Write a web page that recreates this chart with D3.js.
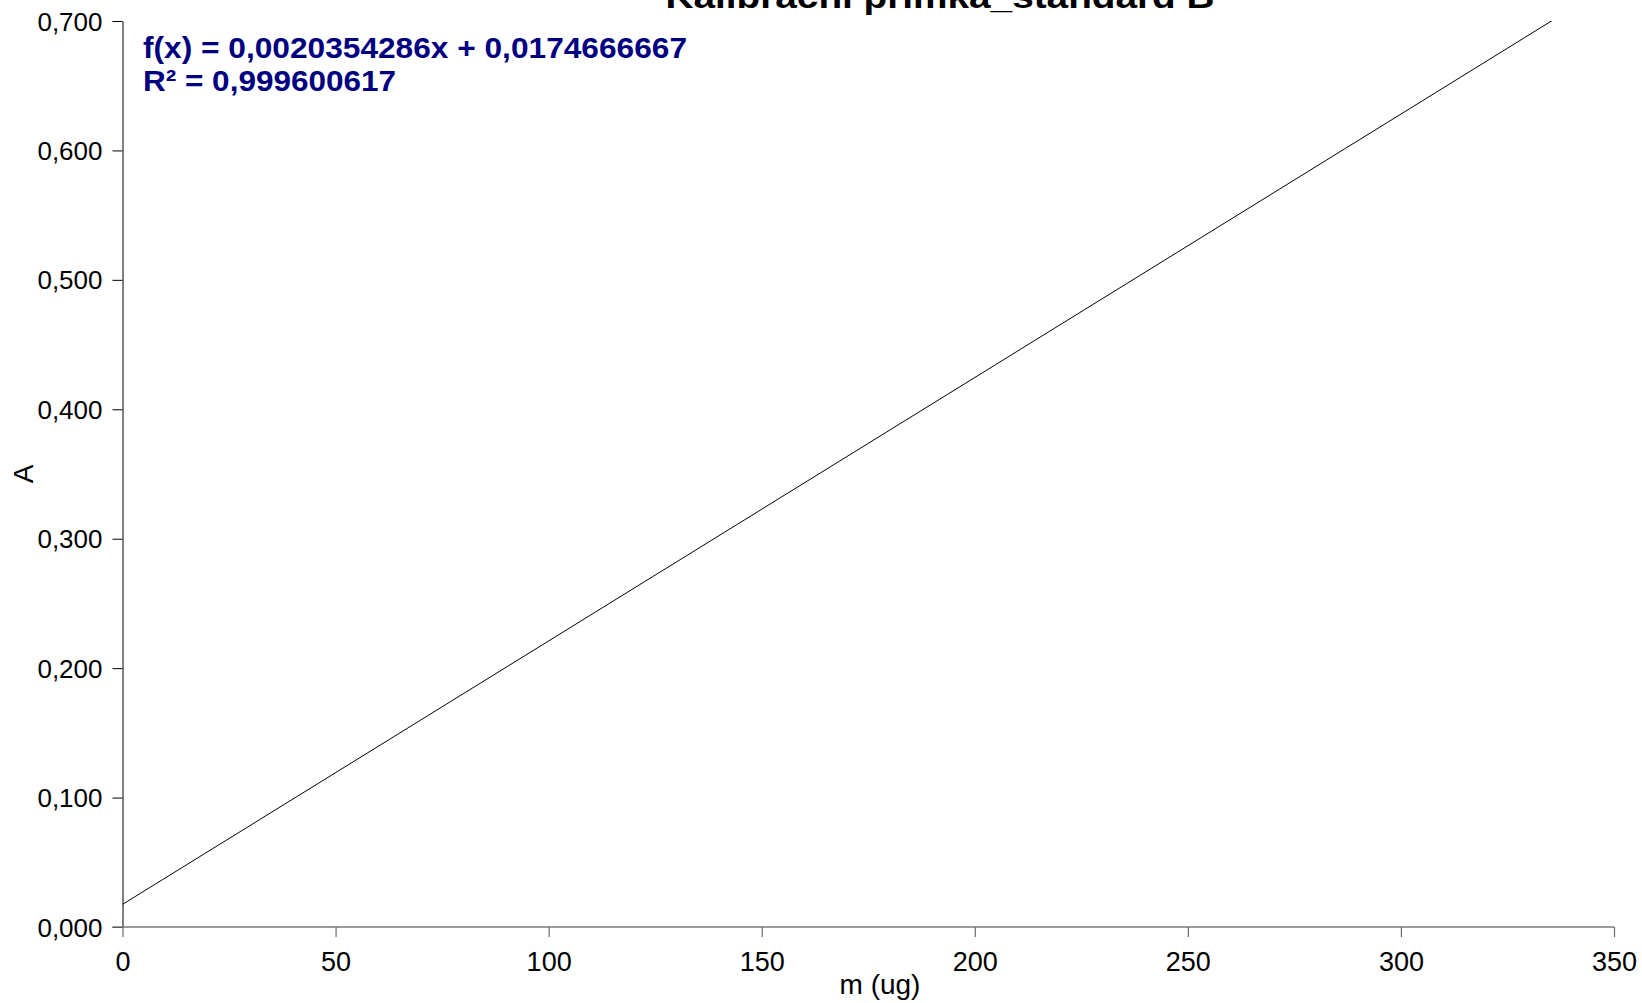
<!DOCTYPE html>
<html>
<head>
<meta charset="utf-8">
<script src="https://cdn.jsdelivr.net/npm/d3@7"></script>
<style>
  html, body { margin: 0; padding: 0; background: #fff; }
  svg { display: block; }
  text { font-family: "Liberation Sans", Arial, sans-serif; }
</style>
</head>
<body>
<svg id="chart" width="1642" height="1003"></svg>
<script>
// ---- data ----
const titleText = "Kalibrační přímka_standard B";
const xLabel = "m (ug)";
const yLabel = "A";
const xTicks = [0, 50, 100, 150, 200, 250, 300, 350];
const yTicks = [0, 0.1, 0.2, 0.3, 0.4, 0.5, 0.6, 0.7];
const slope = 0.0020354286;
const intercept = 0.0174666667;
const rSquared = "0,999600617";
const equationLines = ["f(x) = 0,0020354286x + 0,0174666667", "R² = " + rSquared];
const trendX = [0, 350];

// ---- layout ----
const W = 1642, H = 1003;
const m = { left: 122.5, right: W - 1614, top: 21, bottom: H - 927 };
const svg = d3.select("#chart");
const x = d3.scaleLinear().domain([0, 350]).range([m.left, W - m.right]);
const y = d3.scaleLinear().domain([0, 0.7]).range([H - m.bottom, m.top]);
const fmtY = v => d3.format(".3f")(v).replace(".", ",");

svg.append("defs").append("clipPath").attr("id", "plotclip")
  .append("rect").attr("x", m.left).attr("y", m.top)
  .attr("width", x(350) - m.left).attr("height", y(0) - m.top);

// y axis
const gy = svg.append("g").attr("transform", `translate(${m.left},0)`)
  .call(d3.axisLeft(y).tickValues(yTicks).tickFormat(fmtY).tickSize(10).tickPadding(10).tickSizeOuter(0));
gy.select(".domain").attr("stroke", "#000").attr("stroke-width", 1);
gy.selectAll(".tick line").attr("stroke", "#000");
gy.selectAll(".tick text").attr("font-size", 26).attr("fill", "#000")
  .attr("font-family", "Liberation Sans, Arial, sans-serif").attr("dy", "0.35em");

// x axis
const gx = svg.append("g").attr("transform", `translate(0,${y(0)})`)
  .call(d3.axisBottom(x).tickValues(xTicks).tickFormat(d3.format("d")).tickSize(10).tickPadding(15).tickSizeOuter(0));
gx.select(".domain").attr("stroke", "#7a7a7a").attr("stroke-width", 1.5)
  .attr("d", `M${m.left - 10},0H${x(350)}`);
gx.selectAll(".tick line").attr("stroke", "#6a6a6a").attr("stroke-width", 1.2);
gx.selectAll(".tick text").attr("font-size", 27).attr("fill", "#000")
  .attr("font-family", "Liberation Sans, Arial, sans-serif");

// trend line
const lineGen = d3.line().x(d => x(d)).y(d => y(slope * d + intercept));
svg.append("path").datum(trendX)
  .attr("clip-path", "url(#plotclip)")
  .attr("d", lineGen).attr("fill", "none").attr("stroke", "#000").attr("stroke-width", 1);

// equation
const eqWidths = [544, 253];
equationLines.forEach((t, i) => {
  svg.append("text").attr("x", 143).attr("y", 58 + i * 33)
    .attr("font-size", 30).attr("font-weight", "bold").attr("fill", "#000080")
    .attr("textLength", eqWidths[i]).attr("lengthAdjust", "spacingAndGlyphs")
    .text(t);
});

// title (partially cut off at top, as in the reference)
svg.append("text").attr("x", 940).attr("y", 8).attr("text-anchor", "middle")
  .attr("font-size", 34).attr("font-weight", "bold").attr("fill", "#000")
  .attr("textLength", 549).attr("lengthAdjust", "spacingAndGlyphs")
  .text(titleText);

// axis titles
svg.append("text").attr("x", 880).attr("y", 994).attr("text-anchor", "middle")
  .attr("font-size", 28).attr("fill", "#000").text(xLabel);
svg.append("text").attr("transform", `translate(33,${(y(0) + m.top) / 2}) rotate(-90)`)
  .attr("text-anchor", "middle").attr("font-size", 28).attr("fill", "#000").text(yLabel);
</script>
</body>
</html>
